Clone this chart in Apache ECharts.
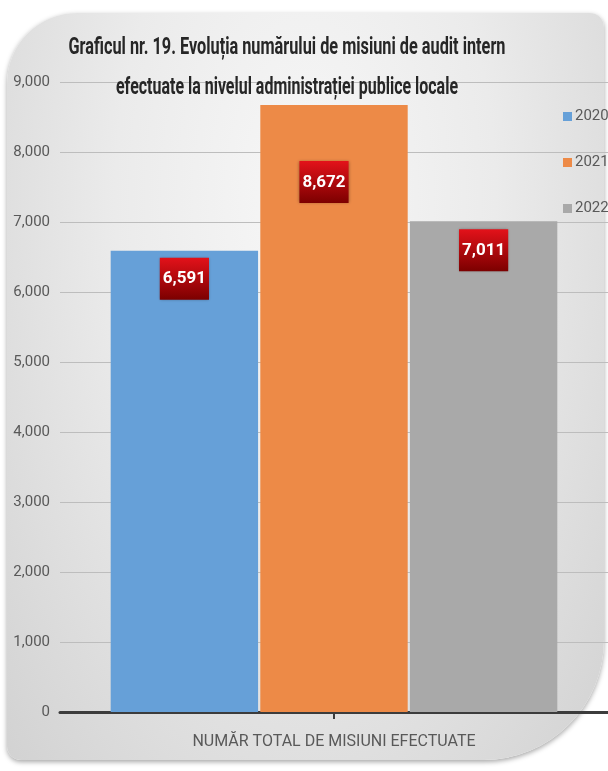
<!DOCTYPE html>
<html>
<head>
<meta charset="utf-8">
<script src="https://cdn.jsdelivr.net/npm/echarts@6/dist/echarts.min.js"></script>
<style>
  html, body { margin: 0; padding: 0; background: #fff; }
  #panel {
    position: absolute; left: 7px; top: 13px; width: 597px; height: 747px;
    border-radius: 70px 14px 120px 14px;
    background: radial-gradient(ellipse at 50% 25%, #f7f7f7 0%, #ebebeb 45%, #d2d2d2 100%);
    box-shadow: 0 2px 5px rgba(0,0,0,0.35);
  }
  #main { position: absolute; left: 0; top: 0; width: 608px; height: 771px; }
</style>
</head>
<body>
<div id="panel"></div>
<div id="main"></div>
<script>
// date
const categorii = ['NUMĂR TOTAL DE MISIUNI EFECTUATE'];
const ani = ['2020', '2021', '2022'];
const valori = [6591, 8672, 7011];
const culori = ['#66a0d8', '#ed8a47', '#a9a9a9'];
const titlu = ['Graficul nr. 19. Evoluția numărului de misiuni de audit intern',
               'efectuate la nivelul administrației publice locale'];

// pozitia etichetelor (in Excel au fost mutate manual)
const distEticheta = [7, 56, 8];
const offsetEticheta = [[0, 0], [-10, 0], [0, 0]];

const font = "Roboto, 'Liberation Sans', sans-serif";

// titlul e foarte ingust, il strangem pe orizontala
const ctx = document.createElement('canvas').getContext('2d');
ctx.font = 'bold 24px ' + font;
const latimi = [437, 342];
const titluGraphic = titlu.map((t, i) => {
  const w = ctx.measureText(t).width;
  return {
    type: 'text',
    x: 287, y: i === 0 ? 48 : 88,
    scaleX: latimi[i] / w,
    style: {
      text: t, font: 'bold 24px ' + font, fill: '#262626',
      align: 'center', verticalAlign: 'middle',
      shadowColor: 'rgba(255,255,255,0.9)', shadowBlur: 3
    },
    z: 10
  };
});

const fundalEticheta = new echarts.graphic.LinearGradient(0, 0, 0, 1, [
  { offset: 0, color: '#e3121a' },
  { offset: 1, color: '#7c0000' }
]);

var myChart = echarts.init(document.getElementById('main'));

var option = {
  animation: false,
  backgroundColor: 'transparent',
  graphic: titluGraphic,
  legend: {
    orient: 'vertical',
    left: 558, top: 104,
    itemWidth: 9, itemHeight: 9, itemGap: 31,
    icon: 'rect',
    textStyle: { color: '#595959', fontSize: 15, fontFamily: font, padding: [0, 0, 0, -2] },
    data: ani
  },
  grid: { left: 60, right: 0, top: 82, bottom: 59 },
  xAxis: {
    type: 'category',
    data: categorii,
    axisLine: { lineStyle: { color: '#3c3c3c', width: 3 } },
    axisTick: { show: true, alignWithLabel: true, length: 7, lineStyle: { color: '#3c3c3c', width: 2 } },
    axisLabel: { color: '#595959', fontSize: 16, fontFamily: font, margin: 22 }
  },
  yAxis: {
    type: 'value',
    min: 0, max: 9000, interval: 1000,
    axisLine: { show: false },
    axisTick: { show: false },
    axisLabel: {
      color: '#595959', fontSize: 15, fontFamily: font, margin: 10,
      formatter: v => v.toLocaleString('en-US')
    },
    splitLine: { lineStyle: { color: '#bdbdbd', width: 1 } }
  },
  series: ani.map((an, i) => ({
    name: an,
    type: 'bar',
    data: [valori[i]],
    barGap: '1.5%',
    barCategoryGap: '18.5%',
    itemStyle: { color: culori[i] },
    label: {
      show: true,
      position: 'insideTop',
      distance: distEticheta[i],
      offset: offsetEticheta[i],
      formatter: p => p.value.toLocaleString('en-US'),
      color: '#fff',
      fontWeight: 'bold',
      fontSize: 17,
      fontFamily: font,
      backgroundColor: fundalEticheta,
      padding: [13, 3, 12, 3],
      shadowColor: 'rgba(0,0,0,0.35)',
      shadowBlur: 3
    }
  }))
};

myChart.setOption(option);
</script>
</body>
</html>
